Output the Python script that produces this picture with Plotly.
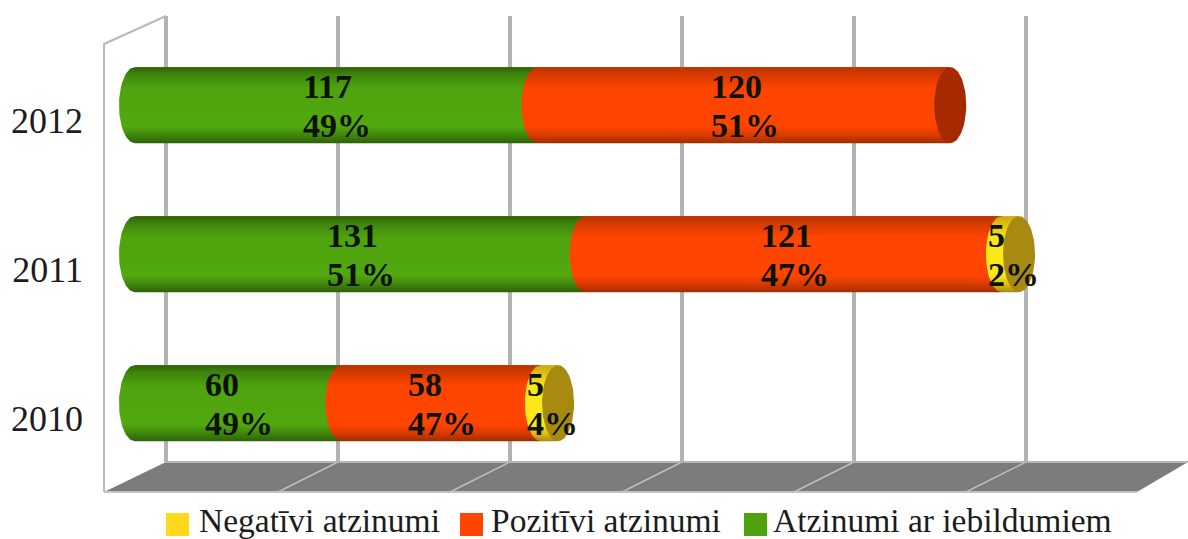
import numpy as np
import plotly.graph_objects as go

W, H = 1188, 539
L, R, T, B = 104, 0, 16, 77

years = ["2010", "2011", "2012"]
green_vals = [60, 131, 117]
red_vals = [58, 121, 120]
yellow_vals = [5, 5, 0]
green_pct = [49, 51, 49]
red_pct = [47, 47, 51]
yellow_pct = [4, 2, 0]

series = [
    ("Atzinumi ar iebildumiem", green_vals, green_pct, "#4fa30f",
     [[0, "#2c6208"], [0.1, "#3f850c"], [0.22, "#52a80f"], [0.72, "#4fa30f"], [0.9, "#3f850c"], [1, "#2c6208"]], None),
    ("Pozitīvi atzinumi", red_vals, red_pct, "#ff4500",
     [[0, "#9c2f00"], [0.1, "#d63a00"], [0.22, "#ff4500"], [0.72, "#ff4500"], [0.9, "#d63a00"], [1, "#b83400"]], "#a52a00"),
    ("Negatīvi atzinumi", yellow_vals, yellow_pct, "#ffd91a",
     [[0, "#a88a10"], [0.1, "#e0bd14"], [0.22, "#ffe81a"], [0.72, "#ffe81a"], [0.9, "#e0bd14"], [1, "#c9a812"]], "#a88a10"),
]

UNIT_PX = 3.44        # pixels per value unit
X_MIN = -9.0
X_MAX = X_MIN + (W - L - R) / UNIT_PX
ROW_PX = 149
Y_MIN = -0.295
Y_MAX = Y_MIN + (H - T - B) / ROW_PX
DEPTH_X = 18.0        # horizontal 3D offset of the back wall, in value units
BAR_SHIFT = 0.1       # 3D offset of the bars from their tick labels
BAR_W = 0.51
CAP = 4.65            # half-width of the cylinder ellipse, in value units


def px(x):
    return (x - L) / (W - L - R)


def py(y):
    return 1 - (y - T) / (H - T - B)


fig = go.Figure()
ypos = [i + BAR_SHIFT for i in range(len(years))]

# Stacked bars carry the values and the hover
for name, vals, pct, col, _, _ in series:
    fig.add_trace(go.Bar(
        y=ypos, x=vals, orientation="h", width=BAR_W, name=name,
        marker=dict(color=col, line=dict(width=0)),
        showlegend=False, hovertemplate=name + ": %{x}<extra></extra>",
    ))

# Cylinder look: each segment is repainted from the same values
th = np.linspace(-np.pi / 2, np.pi / 2, 40)
annotations = []
shapes = []
font_lbl = dict(family="Liberation Serif", size=34, color="#0b1206")

for i, yc in enumerate(ypos):
    start = 0
    top, bot = yc + BAR_W / 2, yc - BAR_W / 2
    last_end, last_cap = 0, None
    for name, vals, pct, col, scale, cap_col in series:
        v = vals[i]
        if not v:
            continue
        end = start + v
        ex = start - CAP * np.cos(th)
        ey = yc + BAR_W / 2 * np.sin(th)
        xs = list(ex) + [end, end, ex[0]]
        ys = list(ey) + [top, bot, ey[0]]
        fig.add_trace(go.Scatter(
            x=xs, y=ys, mode="lines", line=dict(width=0), fill="toself",
            fillgradient=dict(type="vertical", colorscale=scale),
            fillcolor=col, showlegend=False, hoverinfo="skip",
        ))
        mid = start + v / 2
        shift = -35 if pct[i] >= 10 else -24
        annotations.append(dict(x=mid, y=yc, xref="x", yref="y", text=f"<b>{v}</b>", showarrow=False,
                                xanchor="left", xshift=shift, yshift=19, font=font_lbl))
        annotations.append(dict(x=mid, y=yc, xref="x", yref="y", text=f"<b>{pct[i]}%</b>", showarrow=False,
                                xanchor="left", xshift=shift, yshift=-20, font=font_lbl))
        start = end
        last_end, last_cap = end, cap_col
    t2 = np.linspace(0, 2 * np.pi, 80)
    fig.add_trace(go.Scatter(
        x=last_end + CAP * np.cos(t2), y=yc + BAR_W / 2 * np.sin(t2),
        mode="lines", line=dict(width=0), fill="toself", fillcolor=last_cap,
        showlegend=False, hoverinfo="skip",
    ))

# 3D floor and side wall
floor_y0, floor_y1 = py(462), py(492)
shapes.append(dict(type="path", xref="paper", yref="paper", layer="below",
                   path=f"M {px(104)} {floor_y1} L {px(166)} {floor_y0} L {px(1188)} {floor_y0} L {px(1137)} {floor_y1} Z",
                   fillcolor="#7c7c7c", line=dict(width=0)))
for k in range(1, 6):
    g = 166 + k * 172
    shapes.append(dict(type="line", xref="paper", yref="paper", x0=px(g), y0=floor_y0, x1=px(g - 60), y1=floor_y1,
                       line=dict(color="#bdbdbd", width=1.5)))
shapes.append(dict(type="line", xref="paper", yref="paper", x0=px(166), y0=floor_y0, x1=px(1188), y1=floor_y0,
                   line=dict(color="#b4b4b4", width=2)))
shapes.append(dict(type="line", xref="paper", yref="paper", x0=px(104), y0=floor_y1, x1=px(1137), y1=floor_y1,
                   line=dict(color="#c4c4c4", width=2)))
shapes.append(dict(type="path", xref="paper", yref="paper",
                   path=f"M {px(104)} {floor_y1} L {px(104)} {py(44)} L {px(166)} {py(16)}",
                   line=dict(color="#b9b9b9", width=2)))

# Legend row
legend_items = [("Negatīvi atzinumi", "#ffd91a", 166, 197), ("Pozitīvi atzinumi", "#ff4500", 460, 489),
                ("Atzinumi ar iebildumiem", "#4fa30f", 744, 771)]
for text, col, sx, tx in legend_items:
    shapes.append(dict(type="rect", xref="paper", yref="paper", x0=px(sx), x1=px(sx + 23),
                       y0=py(513), y1=py(536), fillcolor=col, line=dict(width=0)))
    annotations.append(dict(x=px(tx), y=py(520), xref="paper", yref="paper", text=text, showarrow=False,
                            xanchor="left", yanchor="middle",
                            font=dict(family="Liberation Serif", size=33.5, color="#1c1c1c")))

fig.update_layout(
    width=W, height=H, margin=dict(l=L, r=R, t=T, b=B, pad=0),
    barmode="stack", paper_bgcolor="white", plot_bgcolor="white", showlegend=False,
    annotations=annotations, shapes=shapes,
    xaxis=dict(range=[X_MIN, X_MAX], tick0=X_MIN + DEPTH_X, dtick=50, showgrid=True, gridcolor="#b3b3b3",
               gridwidth=3.5, showticklabels=False, zeroline=False, showline=False, ticks=""),
    yaxis=dict(range=[Y_MIN, Y_MAX], tickmode="array", tickvals=list(range(len(years))), ticktext=years,
               showgrid=False, zeroline=False, showline=False, ticks="", ticklabelstandoff=20,
               tickfont=dict(family="Liberation Serif", size=36, color="#1c1c1c")),
)
fig.write_html("out.html", config={"displayModeBar": False},
               post_script="document.body.style.margin='0';document.documentElement.style.overflow='hidden';")
